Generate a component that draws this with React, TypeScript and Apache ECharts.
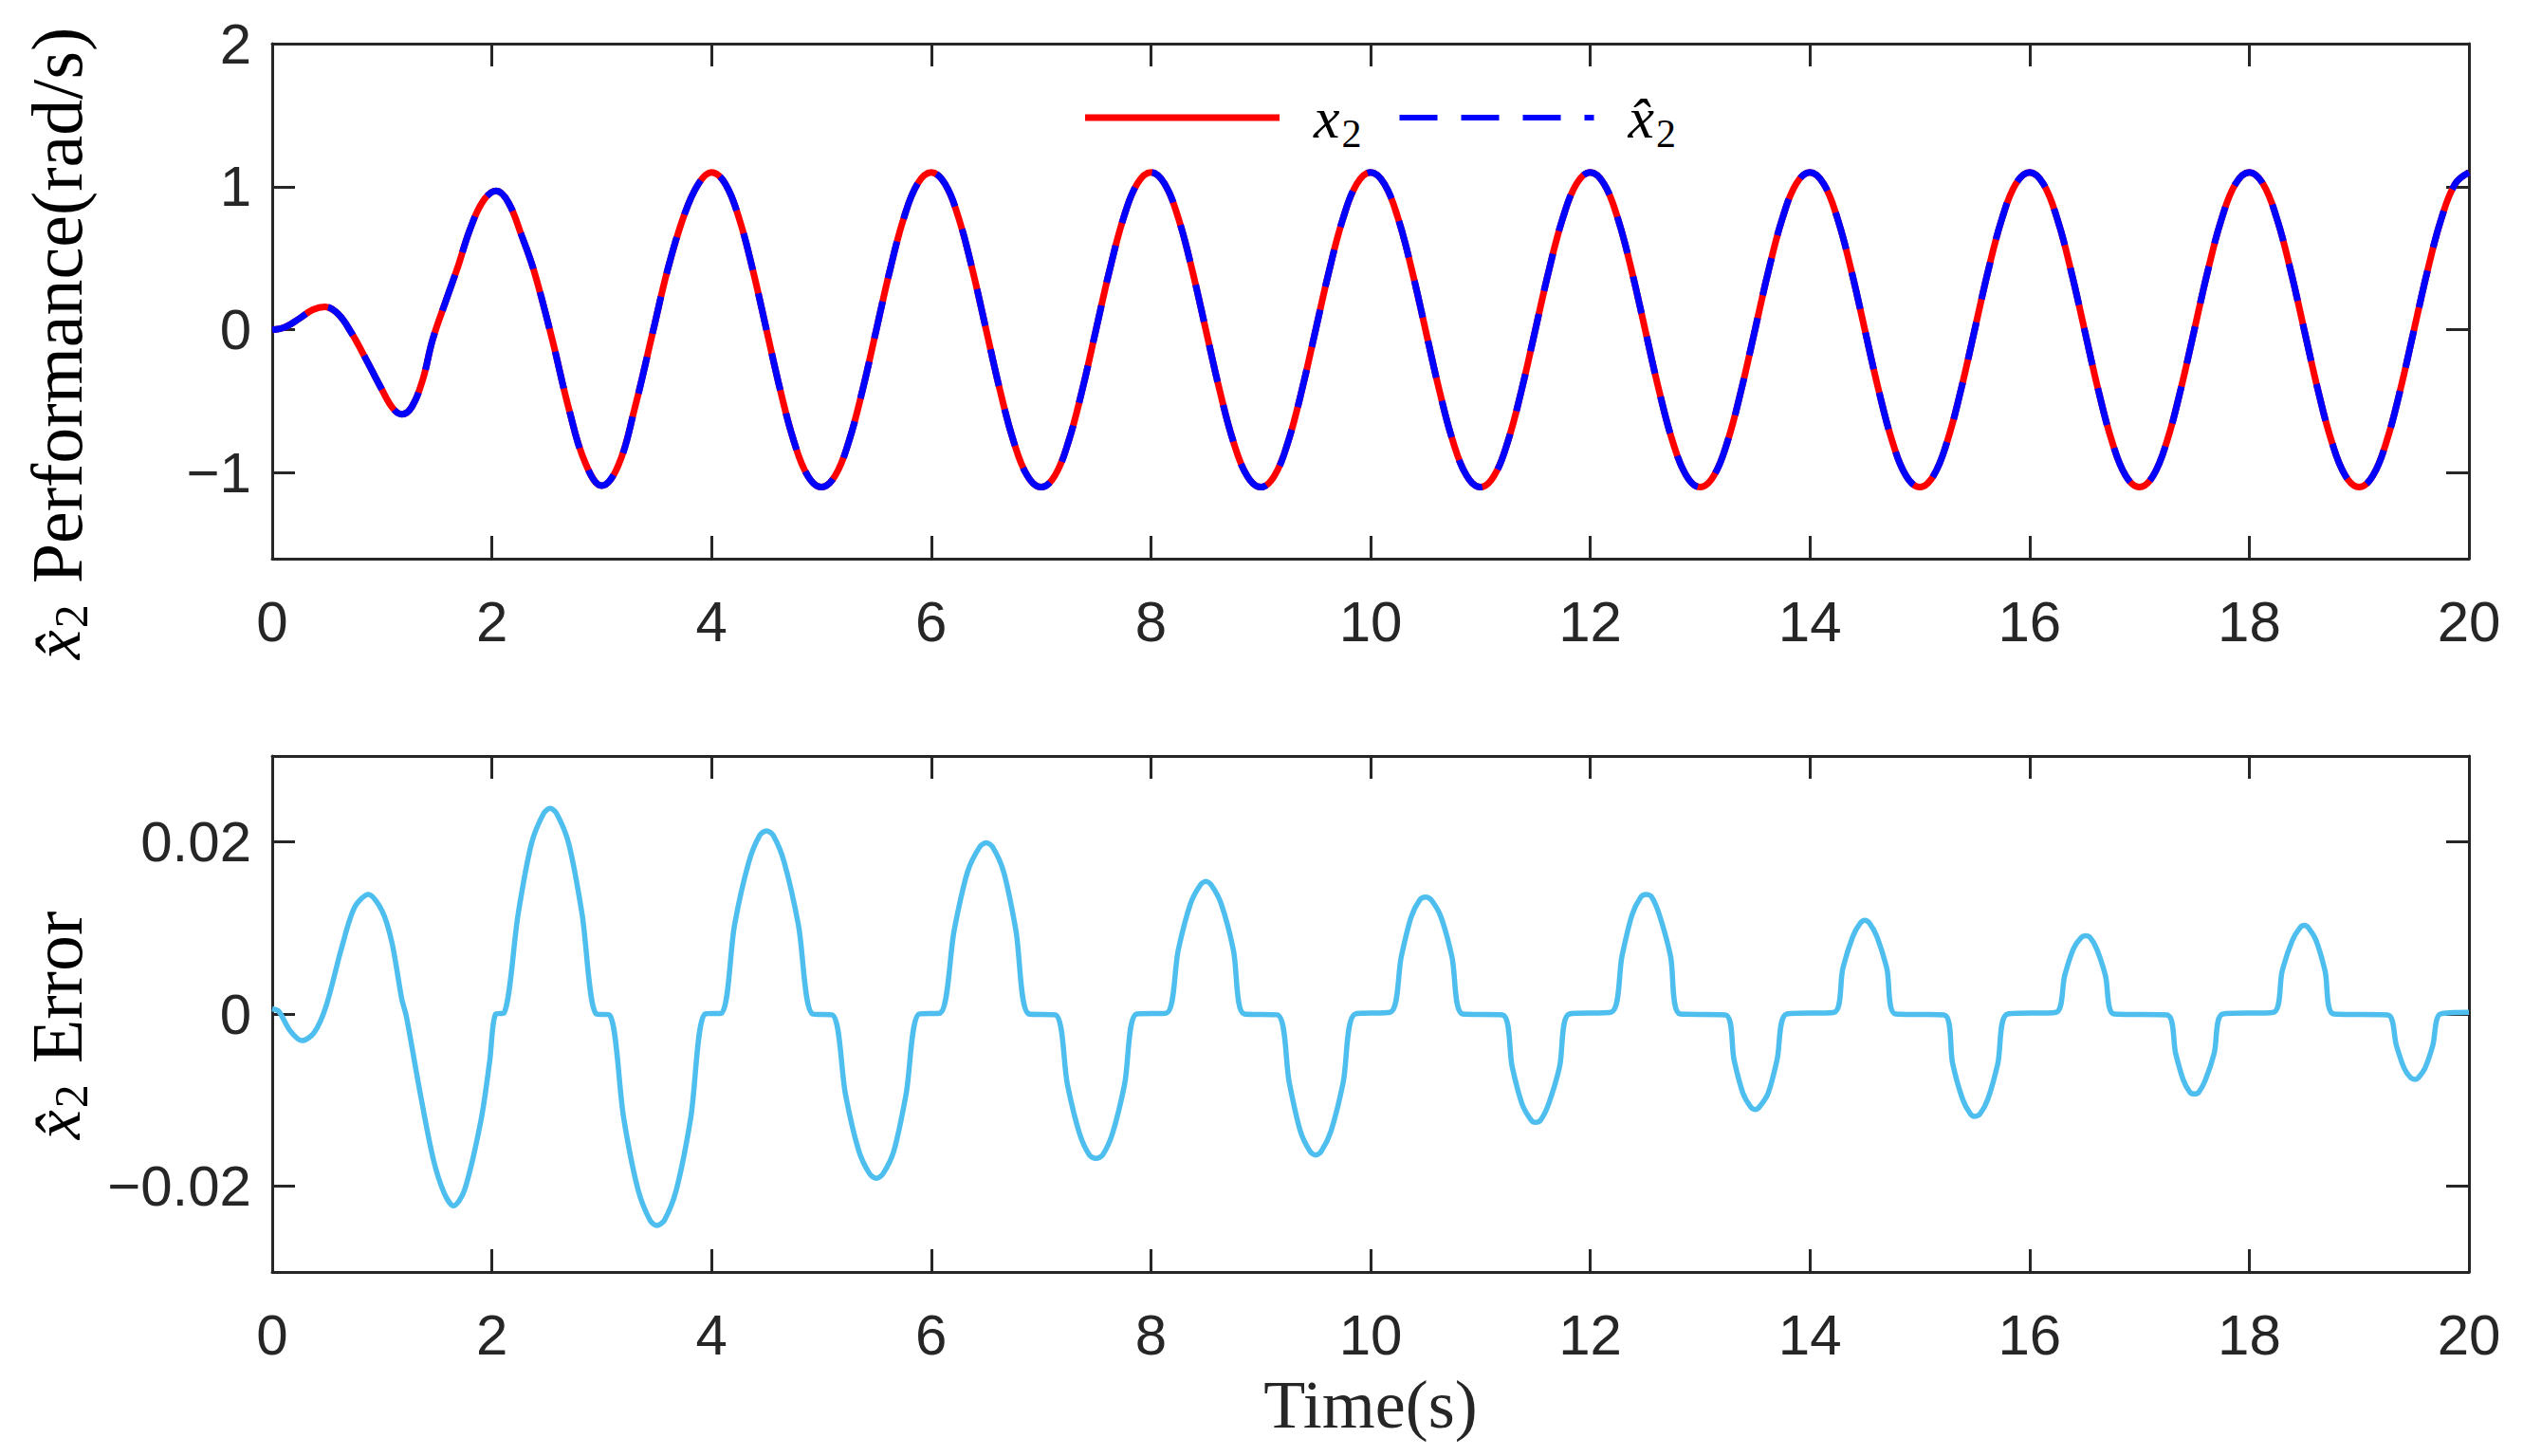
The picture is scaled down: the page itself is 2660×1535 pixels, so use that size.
import React, { useEffect, useRef } from 'react';
import * as echarts from 'echarts';

// x axis (time, s)
const timeMin = 0;
const timeMax = 20;
const timeStep = 2;

// tick labels of the two value axes
const perfTicks = [-1, 0, 1, 2];
const errorTicks = [-0.02, 0, 0.02];

// x2 (rad/s); x̂2 overlaps it everywhere
const x2Points: [number, number][] = [
  [0, 0], [0.12, 0.02], [0.25, 0.08], [0.37, 0.14], [0.48, 0.16], [0.6, 0.11],
  [0.72, -0.02], [0.85, -0.2], [1.0, -0.42], [1.1, -0.55], [1.18, -0.59], [1.27, -0.54],
  [1.37, -0.35], [1.46, -0.07], [1.58, 0.2], [1.69, 0.44], [1.8, 0.7], [1.92, 0.9],
  [2.04, 0.97], [2.15, 0.89], [2.27, 0.66], [2.38, 0.42], [2.55, -0.07], [2.7, -0.55],
  [2.85, -0.93], [3.0, -1.09], [3.15, -0.95], [3.3, -0.55], [3.47, 0], [3.6, 0.42],
  [3.75, 0.8], [3.88, 1.02],
  [4, 1.1], [4.125, 1.02], [4.25, 0.78], [4.375, 0.42], [4.5, 0], [4.625, -0.42], [4.75, -0.78], [4.875, -1.02],
  [5, -1.1], [5.125, -1.02], [5.25, -0.78], [5.375, -0.42], [5.5, 0], [5.625, 0.42], [5.75, 0.78], [5.875, 1.02],
  [6, 1.1], [6.125, 1.02], [6.25, 0.78], [6.375, 0.42], [6.5, 0], [6.625, -0.42], [6.75, -0.78], [6.875, -1.02],
  [7, -1.1], [7.125, -1.02], [7.25, -0.78], [7.375, -0.42], [7.5, 0], [7.625, 0.42], [7.75, 0.78], [7.875, 1.02],
  [8, 1.1], [8.125, 1.02], [8.25, 0.78], [8.375, 0.42], [8.5, 0], [8.625, -0.42], [8.75, -0.78], [8.875, -1.02],
  [9, -1.1], [9.125, -1.02], [9.25, -0.78], [9.375, -0.42], [9.5, 0], [9.625, 0.42], [9.75, 0.78], [9.875, 1.02],
  [10, 1.1], [10.125, 1.02], [10.25, 0.78], [10.375, 0.42], [10.5, 0], [10.625, -0.42], [10.75, -0.78], [10.875, -1.02],
  [11, -1.1], [11.125, -1.02], [11.25, -0.78], [11.375, -0.42], [11.5, 0], [11.625, 0.42], [11.75, 0.78], [11.875, 1.02],
  [12, 1.1], [12.125, 1.02], [12.25, 0.78], [12.375, 0.42], [12.5, 0], [12.625, -0.42], [12.75, -0.78], [12.875, -1.02],
  [13, -1.1], [13.125, -1.02], [13.25, -0.78], [13.375, -0.42], [13.5, 0], [13.625, 0.42], [13.75, 0.78], [13.875, 1.02],
  [14, 1.1], [14.125, 1.02], [14.25, 0.78], [14.375, 0.42], [14.5, 0], [14.625, -0.42], [14.75, -0.78], [14.875, -1.02],
  [15, -1.1], [15.125, -1.02], [15.25, -0.78], [15.375, -0.42], [15.5, 0], [15.625, 0.42], [15.75, 0.78], [15.875, 1.02],
  [16, 1.1], [16.125, 1.02], [16.25, 0.78], [16.375, 0.42], [16.5, 0], [16.625, -0.42], [16.75, -0.78], [16.875, -1.02],
  [17, -1.1], [17.125, -1.02], [17.25, -0.78], [17.375, -0.42], [17.5, 0], [17.625, 0.42], [17.75, 0.78], [17.875, 1.02],
  [18, 1.1], [18.125, 1.02], [18.25, 0.78], [18.375, 0.42], [18.5, 0], [18.625, -0.42], [18.75, -0.78], [18.875, -1.02],
  [19, -1.1], [19.125, -1.02], [19.25, -0.78], [19.375, -0.42], [19.5, 0], [19.625, 0.42], [19.75, 0.78], [19.875, 1.02],
  [20, 1.1],
];
const x2HatPoints = x2Points;

// x̂2 estimation error, lower panel
const errorPoints: [number, number][] = [
  [0, 0.0006], [0.06, 0.0003], [0.16, -0.0019], [0.27, -0.0031], [0.38, -0.0022], [0.49, 0.0009],
  [0.63, 0.0076], [0.75, 0.0124], [0.875, 0.0139], [1.0, 0.012], [1.09, 0.0083], [1.18, 0.0017],
  [1.22, -0.0002], [1.35, -0.0094], [1.465, -0.0168], [1.565, -0.0208], [1.65, -0.0223],
  [1.75, -0.0205], [1.9, -0.0124], [1.98, -0.0055], [2.035, 0], [2.11, 0.0001],
  [2.24, 0.0117], [2.36, 0.0198], [2.47, 0.0233], [2.53, 0.0239], [2.59, 0.0233], [2.7, 0.0198], [2.82, 0.0117], [2.95, 0],
  [3.07, -0.0001],
  [3.2, -0.0121], [3.33, -0.0204], [3.44, -0.024], [3.5, -0.0246], [3.57, -0.024], [3.68, -0.0204], [3.81, -0.0121], [3.94, 0],
  [4.09, 0.0001],
  [4.21, 0.0104], [4.34, 0.0177], [4.44, 0.0208], [4.5, 0.0213], [4.56, 0.0208], [4.66, 0.0177], [4.79, 0.0104], [4.92, 0],
  [5.1, -0.0001],
  [5.22, -0.0094], [5.34, -0.0159], [5.44, -0.0186], [5.5, -0.0191], [5.56, -0.0186], [5.66, -0.0159], [5.77, -0.0094], [5.89, 0],
  [6.08, 0.0001],
  [6.21, 0.0098], [6.33, 0.0165], [6.44, 0.0194], [6.5, 0.0199], [6.56, 0.0194], [6.66, 0.0165], [6.77, 0.0098], [6.89, 0],
  [7.13, -0.0001],
  [7.24, -0.0082], [7.35, -0.0139], [7.44, -0.0164], [7.5, -0.0168], [7.56, -0.0164], [7.65, -0.0139], [7.76, -0.0082], [7.87, 0],
  [8.14, 0.0001],
  [8.25, 0.0075], [8.36, 0.0128], [8.45, 0.015], [8.5, 0.0154], [8.55, 0.015], [8.64, 0.0128], [8.75, 0.0075], [8.85, 0],
  [9.15, -0.0001],
  [9.26, -0.008], [9.36, -0.0136], [9.45, -0.016], [9.5, -0.0164], [9.55, -0.016], [9.64, -0.0136], [9.75, -0.008], [9.86, 0],
  [10.18, 0.0002],
  [10.28, 0.0067], [10.37, 0.0113], [10.45, 0.0133], [10.5, 0.0136], [10.55, 0.0133], [10.64, 0.0113], [10.74, 0.0067], [10.84, 0],
  [11.2, -0.0001],
  [11.29, -0.0062], [11.38, -0.0105], [11.46, -0.0123], [11.5, -0.0126], [11.55, -0.0123], [11.62, -0.0105], [11.72, -0.0062], [11.81, 0],
  [12.19, 0.0002],
  [12.29, 0.0068], [12.38, 0.0115], [12.46, 0.0136], [12.51, 0.0139], [12.56, 0.0136], [12.63, 0.0115], [12.73, 0.0068], [12.82, 0],
  [13.23, -0.0001],
  [13.31, -0.0054], [13.39, -0.0092], [13.46, -0.0108], [13.5, -0.0111], [13.54, -0.0108], [13.62, -0.0092], [13.7, -0.0054], [13.79, 0],
  [14.22, 0.0002],
  [14.3, 0.0053], [14.39, 0.009], [14.46, 0.0106], [14.5, 0.0109], [14.54, 0.0106], [14.61, 0.009], [14.7, 0.0053], [14.78, 0],
  [15.22, -0.0001],
  [15.3, -0.0058], [15.39, -0.0099], [15.46, -0.0116], [15.5, -0.0119], [15.55, -0.0116], [15.62, -0.0099], [15.71, -0.0058], [15.8, 0],
  [16.24, 0.0002],
  [16.32, 0.0045], [16.4, 0.0076], [16.47, 0.0089], [16.51, 0.0091], [16.55, 0.0089], [16.61, 0.0076], [16.69, 0.0045], [16.77, 0],
  [17.25, -0.0001],
  [17.33, -0.0046], [17.4, -0.0077], [17.46, -0.0091], [17.5, -0.0093], [17.54, -0.0091], [17.6, -0.0077], [17.68, -0.0046], [17.76, 0],
  [18.22, 0.0002],
  [18.3, 0.005], [18.39, 0.0085], [18.46, 0.01], [18.5, 0.0103], [18.54, 0.01], [18.61, 0.0085], [18.69, 0.005], [18.77, 0],
  [19.26, -0.0001],
  [19.34, -0.0037], [19.41, -0.0063], [19.47, -0.0074], [19.51, -0.0076], [19.54, -0.0074], [19.6, -0.0063], [19.67, -0.0037], [19.74, 0],
  [20, 0.0002],
];

const AXIS_COLOR = '#262626';
const SANS = 'Liberation Sans';
const SERIF = 'Liberation Serif';

// legend glyph for the dashed x̂2 line: three dashes and a short end piece
const DASH_ICON = 'path://M0,0h40v6h-40z M65,0h40v6h-40z M130,0h40v6h-40z M195,0h10v6h-10z';

const fmtTick = (v: number) => (v < 0 ? '\u2212' + String(-v) : String(v));

const axisBase = {
  axisLine: { show: true, onZero: false, lineStyle: { color: AXIS_COLOR, width: 3 } },
  splitLine: { show: false },
};
const tickStyle = { show: true, inside: true, length: 24, lineStyle: { color: AXIS_COLOR, width: 3 } };
const tickLabel = { fontFamily: SANS, fontSize: 60, color: AXIS_COLOR };

const makeXAxes = (gridIndex: number, withName: boolean) => [
  {
    ...axisBase,
    type: 'value',
    gridIndex,
    position: 'bottom',
    min: timeMin,
    max: timeMax,
    interval: timeStep,
    axisTick: tickStyle,
    axisLabel: { ...tickLabel, margin: 36 },
    name: withName ? 'Time(s)' : '',
    nameLocation: 'middle',
    nameGap: 104,
    nameTextStyle: { fontFamily: SERIF, fontSize: 72, color: AXIS_COLOR },
  },
  {
    ...axisBase,
    type: 'value',
    gridIndex,
    position: 'top',
    min: timeMin,
    max: timeMax,
    interval: timeStep,
    axisTick: tickStyle,
    axisLabel: { show: false },
  },
];

const makeYAxes = (gridIndex: number, min: number, max: number, ticks: number[]) => [
  {
    ...axisBase,
    type: 'value',
    gridIndex,
    position: 'left',
    min,
    max,
    axisTick: { ...tickStyle, customValues: ticks },
    axisLabel: { ...tickLabel, margin: 22, customValues: ticks, formatter: fmtTick },
  },
  {
    ...axisBase,
    type: 'value',
    gridIndex,
    position: 'right',
    min,
    max,
    axisTick: { ...tickStyle, customValues: ticks },
    axisLabel: { show: false },
  },
];

const titleRich = {
  i: { fontFamily: SERIF, fontStyle: 'italic', fontSize: 70, color: '#000' },
  s: { fontFamily: SERIF, fontSize: 50, color: '#000', padding: [30, 0, 0, 2] },
  r: { fontFamily: SERIF, fontSize: 76, color: '#111', padding: [0, 0, 0, 22] },
};

const legendRich = {
  i: { fontFamily: SERIF, fontStyle: 'italic', fontSize: 62, color: '#000', padding: [0, 0, 0, 31] },
  s: { fontFamily: SERIF, fontSize: 42, color: '#000', padding: [34, 0, 0, 2] },
};

export default function App() {
  const chartRef = useRef<HTMLDivElement>(null);

  useEffect(() => {
    document.body.style.margin = '0';
    if (!chartRef.current) return;
    const chart = echarts.init(chartRef.current, null, { renderer: 'svg' });

    chart.setOption({
      animation: false,
      backgroundColor: '#ffffff',
      textStyle: { fontFamily: SANS },
      grid: [
        { left: 287, right: 57, top: 46, height: 543, containLabel: false, outerBoundsMode: 'none' },
        { left: 287, right: 57, top: 797, height: 544, containLabel: false, outerBoundsMode: 'none' },
      ],
      xAxis: [...makeXAxes(0, false), ...makeXAxes(1, true)],
      yAxis: [...makeYAxes(0, -1.6, 2, perfTicks), ...makeYAxes(1, -0.03, 0.03, errorTicks)],
      legend: {
        show: true,
        left: 1139,
        top: 88,
        orient: 'horizontal',
        itemWidth: 205,
        itemHeight: 7,
        itemGap: 40,
        itemStyle: { borderWidth: 0 },
        data: [
          { name: 'x₂', icon: 'rect' },
          { name: 'x̂₂', icon: DASH_ICON },
        ],
        formatter: (name: string) => (name === 'x₂' ? '{i|x}{s|2}' : '{i|x̂}{s|2}'),
        textStyle: { rich: legendRich },
      },
      graphic: [
        {
          type: 'text',
          x: 60,
          y: 362,
          rotation: Math.PI / 2,
          style: {
            text: '{i|x̂}{s|2}{r|Performance(rad/s)}',
            rich: titleRich,
            align: 'center',
            verticalAlign: 'middle',
          },
        },
        {
          type: 'text',
          x: 60,
          y: 1081,
          rotation: Math.PI / 2,
          style: {
            text: '{i|x̂}{s|2}{r|Error}',
            rich: titleRich,
            align: 'center',
            verticalAlign: 'middle',
          },
        },
      ],
      series: [
        {
          name: 'x₂',
          type: 'line',
          xAxisIndex: 0,
          yAxisIndex: 0,
          data: x2Points,
          symbol: 'none',
          showSymbol: false,
          smooth: 0.4,
          lineStyle: { color: '#ff0000', width: 7 },
          itemStyle: { color: '#ff0000' },
          z: 2,
        },
        {
          name: 'x̂₂',
          type: 'line',
          xAxisIndex: 0,
          yAxisIndex: 0,
          data: x2HatPoints,
          symbol: 'none',
          showSymbol: false,
          smooth: 0.4,
          lineStyle: { color: '#0000ff', width: 7, type: [40, 25], cap: 'butt' },
          itemStyle: { color: '#0000ff' },
          z: 3,
        },
        {
          name: 'x̂₂ Error',
          type: 'line',
          xAxisIndex: 2,
          yAxisIndex: 2,
          data: errorPoints,
          symbol: 'none',
          showSymbol: false,
          smooth: 0.3,
          lineStyle: { color: '#4dbeee', width: 5.5 },
          itemStyle: { color: '#4dbeee' },
        },
      ],
    });

    return () => {
      chart.dispose();
    };
  }, []);

  return <div ref={chartRef} style={{ width: 2660, height: 1535 }} />;
}
